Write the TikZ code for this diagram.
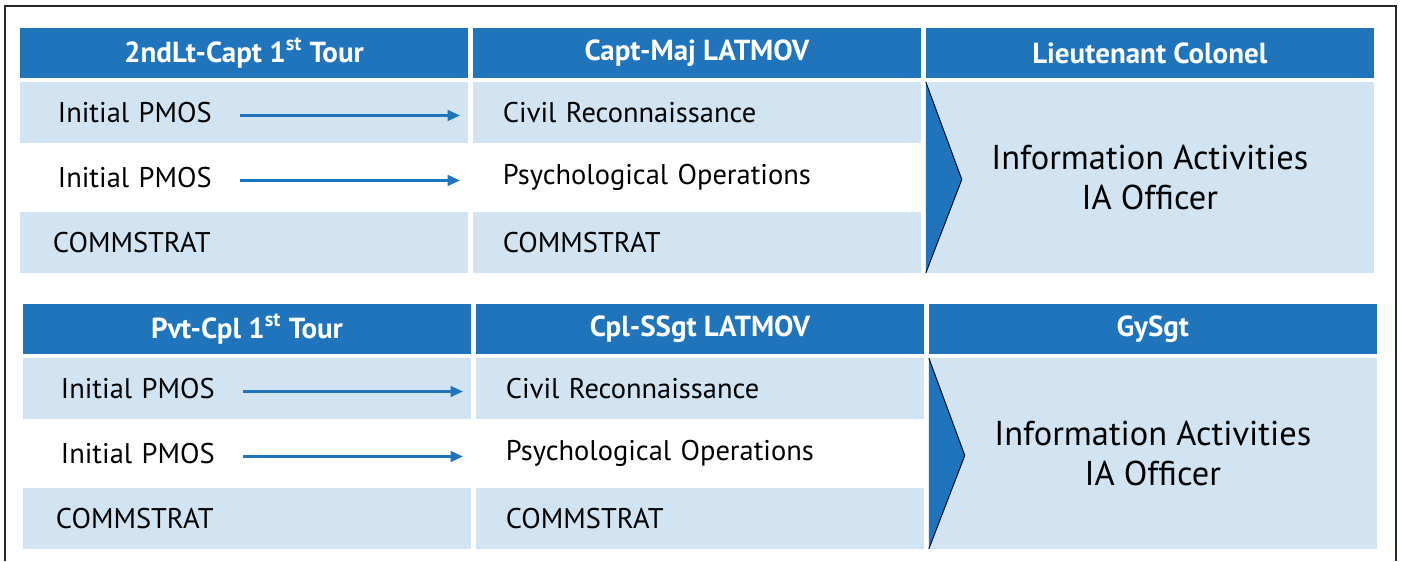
\documentclass[tikz,border=0pt]{standalone}
\usepackage{fontspec}
\setmainfont{PT Sans}
\usetikzlibrary{positioning, arrows.meta, calc}
\definecolor{headblue}{RGB}{31,116,188}
\definecolor{cellblue}{RGB}{210,227,241}
\definecolor{framegray}{RGB}{40,40,40}

\begin{document}
\begin{tikzpicture}[
        x=0.02cm, y=-0.02cm,
        node distance=0.08cm and 0.1cm,
        head/.style={rectangle, fill=headblue, text=white, minimum width=8.96cm, minimum height=1cm, inner sep=0pt, outer sep=0pt, font=\fontsize{16.5}{19}\selectfont\bfseries},
        cell/.style={rectangle, fill=cellblue, text width=7.44cm, inner xsep=0.76cm, inner ysep=0pt, outer sep=0pt, minimum height=1.22cm, align=left, font=\fontsize{16.2}{19}\selectfont},
        cellB/.style={cell, text width=7.76cm, inner xsep=0.6cm},
        cellC/.style={cell, text width=7.64cm, inner xsep=0.66cm},
        blank/.style={fill=none},
        rank/.style={rectangle, fill=cellblue, minimum width=8.96cm, minimum height=3.82cm, inner sep=0pt, outer sep=0pt, align=center, font=\fontsize{19.6}{23.3}\selectfont},
        flow/.style={-{Triangle[length=7pt, width=6pt]}, draw=headblue, line width=1.4pt}
    ]
        \useasboundingbox (0,0) rectangle (1402,561);
        \draw [framegray, line width=1pt] (5,561) -- (5,6) -- (1396,6) -- (1396,561);

        % Officers
        \node (hA) [head, anchor=north west] at (20,28) {2ndLt-Capt 1\textsuperscript{st} Tour};
        \node (hB) [head, right=of hA] {Capt-Maj LATMOV};
        \node (hC) [head, right=of hB] {Lieutenant Colonel};
        \node (a1) [cell, below=of hA] {Initial PMOS};
        \node (a2) [cell, blank, below=of a1] {Initial PMOS};
        \node (a3) [cellC, below=of a2] {COMMSTRAT};
        \node (b1) [cellB, below=of hB] {Civil Reconnaissance};
        \node (b2) [cellB, blank, below=of b1] {Psychological Operations};
        \node (b3) [cellB, below=of b2] {COMMSTRAT};
        \node (c1) [rank, below=of hC] {Information Activities\\IA Officer};

        % Enlisted
        \node (hD) [head, anchor=north west] at (23,304) {Pvt-Cpl 1\textsuperscript{st} Tour};
        \node (hE) [head, right=of hD] {Cpl-SSgt LATMOV};
        \node (hF) [head, right=of hE] {GySgt};
        \node (d1) [cell, below=of hD] {Initial PMOS};
        \node (d2) [cell, blank, below=of d1] {Initial PMOS};
        \node (d3) [cellC, below=of d2] {COMMSTRAT};
        \node (e1) [cellB, below=of hE] {Civil Reconnaissance};
        \node (e2) [cellB, blank, below=of e1] {Psychological Operations};
        \node (e3) [cellB, below=of e2] {COMMSTRAT};
        \node (f1) [rank, below=of hF] {Information Activities\\IA Officer};

        % Chevrons
        \foreach \r in {c1, f1} {
            \fill [headblue] (\r.north west) -- ($(\r.west)+(36,2)$) -- (\r.south west) -- cycle;
            \draw [black, line width=0.5pt] (\r.north west) -- ($(\r.west)+(36,2)$) -- (\r.south west);
        }

        % Arrows
        \foreach \s in {a1, a2, d1, d2} {
            \coordinate (\s-from) at ($(\s.west)+(220,3)$);
            \coordinate (\s-to) at ($(\s.west)+(440,3)$);
            \draw [flow] (\s-from) -- (\s-to);
        }
    \end{tikzpicture}
\end{document}
